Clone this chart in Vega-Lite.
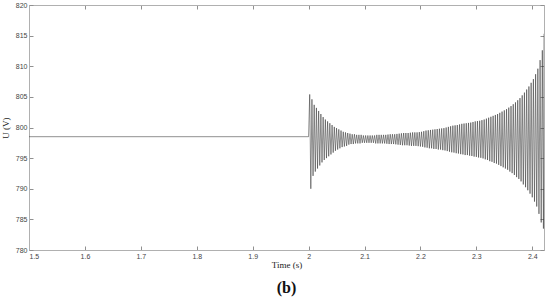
{
  "$schema": "https://vega.github.io/schema/vega-lite/v6.json",
  "width": 515,
  "height": 245,
  "autosize": "none",
  "padding": {"left": 29, "top": 5, "right": 6, "bottom": 47},
  "background": "white",
  "config": {
    "view": {"stroke": "#b0b0b0", "strokeWidth": 1},
    "axis": {
      "grid": false,
      "domainColor": "#b0b0b0",
      "tickColor": "#909090",
      "labelFont": "Liberation Sans",
      "labelFontSize": 7,
      "labelColor": "#444",
      "titleFont": "Liberation Serif",
      "titleFontWeight": "normal",
      "titleFontSize": 9,
      "titleColor": "#222"
    }
  },
  "title": {"text": "(b)", "orient": "bottom", "font": "Liberation Serif", "fontSize": 16, "fontWeight": "bold", "color": "#111", "offset": 11, "anchor": "middle"},
  "data": {"values": [
    {"t": 1.5, "u": 798.5}, {"t": 2.0, "u": 798.5},
    {"t": 2.002, "u": 805.4}, {"t": 2.004, "u": 790.0}, {"t": 2.006, "u": 804.6}, {"t": 2.008, "u": 792.1},
    {"t": 2.010, "u": 803.7}, {"t": 2.012, "u": 792.8}, {"t": 2.014, "u": 803.2}, {"t": 2.016, "u": 793.3},
    {"t": 2.018, "u": 802.7}, {"t": 2.020, "u": 793.8}, {"t": 2.022, "u": 802.2}, {"t": 2.024, "u": 794.3},
    {"t": 2.026, "u": 801.7}, {"t": 2.028, "u": 794.7}, {"t": 2.030, "u": 801.3}, {"t": 2.032, "u": 795.0},
    {"t": 2.034, "u": 801.0}, {"t": 2.036, "u": 795.3}, {"t": 2.038, "u": 800.7}, {"t": 2.040, "u": 795.6},
    {"t": 2.042, "u": 800.4}, {"t": 2.044, "u": 795.9}, {"t": 2.046, "u": 800.1}, {"t": 2.048, "u": 796.2},
    {"t": 2.050, "u": 799.9}, {"t": 2.052, "u": 796.4}, {"t": 2.054, "u": 799.7}, {"t": 2.056, "u": 796.6},
    {"t": 2.058, "u": 799.5}, {"t": 2.060, "u": 796.8}, {"t": 2.062, "u": 799.3}, {"t": 2.064, "u": 796.9},
    {"t": 2.066, "u": 799.2}, {"t": 2.068, "u": 797.0}, {"t": 2.070, "u": 799.1}, {"t": 2.072, "u": 797.2},
    {"t": 2.074, "u": 799.0}, {"t": 2.076, "u": 797.3}, {"t": 2.078, "u": 798.9}, {"t": 2.080, "u": 797.3},
    {"t": 2.082, "u": 798.9}, {"t": 2.084, "u": 797.4}, {"t": 2.086, "u": 798.8}, {"t": 2.088, "u": 797.4},
    {"t": 2.090, "u": 798.8}, {"t": 2.092, "u": 797.4}, {"t": 2.094, "u": 798.8}, {"t": 2.096, "u": 797.5},
    {"t": 2.098, "u": 798.7}, {"t": 2.100, "u": 797.5}, {"t": 2.102, "u": 798.7}, {"t": 2.104, "u": 797.5},
    {"t": 2.106, "u": 798.7}, {"t": 2.108, "u": 797.5}, {"t": 2.110, "u": 798.7}, {"t": 2.112, "u": 797.5},
    {"t": 2.114, "u": 798.7}, {"t": 2.116, "u": 797.5}, {"t": 2.118, "u": 798.7}, {"t": 2.120, "u": 797.4},
    {"t": 2.122, "u": 798.8}, {"t": 2.124, "u": 797.4}, {"t": 2.126, "u": 798.8}, {"t": 2.128, "u": 797.4},
    {"t": 2.130, "u": 798.8}, {"t": 2.132, "u": 797.4}, {"t": 2.134, "u": 798.8}, {"t": 2.136, "u": 797.4},
    {"t": 2.138, "u": 798.8}, {"t": 2.140, "u": 797.35}, {"t": 2.142, "u": 798.85}, {"t": 2.144, "u": 797.3},
    {"t": 2.146, "u": 798.9}, {"t": 2.148, "u": 797.3}, {"t": 2.150, "u": 798.9}, {"t": 2.152, "u": 797.3},
    {"t": 2.154, "u": 798.9}, {"t": 2.156, "u": 797.25}, {"t": 2.158, "u": 798.95}, {"t": 2.160, "u": 797.2},
    {"t": 2.162, "u": 799.0}, {"t": 2.164, "u": 797.15}, {"t": 2.166, "u": 799.05}, {"t": 2.168, "u": 797.1},
    {"t": 2.170, "u": 799.1}, {"t": 2.172, "u": 797.1}, {"t": 2.174, "u": 799.1}, {"t": 2.176, "u": 797.1},
    {"t": 2.178, "u": 799.1}, {"t": 2.180, "u": 797.05}, {"t": 2.182, "u": 799.15}, {"t": 2.184, "u": 797.0},
    {"t": 2.186, "u": 799.2}, {"t": 2.188, "u": 797.0}, {"t": 2.190, "u": 799.2}, {"t": 2.192, "u": 797.0},
    {"t": 2.194, "u": 799.2}, {"t": 2.196, "u": 796.95}, {"t": 2.198, "u": 799.25}, {"t": 2.200, "u": 796.9},
    {"t": 2.202, "u": 799.3}, {"t": 2.204, "u": 796.85}, {"t": 2.206, "u": 799.4}, {"t": 2.208, "u": 796.75},
    {"t": 2.210, "u": 799.5}, {"t": 2.212, "u": 796.7}, {"t": 2.214, "u": 799.55}, {"t": 2.216, "u": 796.6},
    {"t": 2.218, "u": 799.6}, {"t": 2.220, "u": 796.6}, {"t": 2.222, "u": 799.65}, {"t": 2.224, "u": 796.5},
    {"t": 2.226, "u": 799.7}, {"t": 2.228, "u": 796.5}, {"t": 2.230, "u": 799.75}, {"t": 2.232, "u": 796.4},
    {"t": 2.234, "u": 799.8}, {"t": 2.236, "u": 796.4}, {"t": 2.238, "u": 799.85}, {"t": 2.240, "u": 796.3},
    {"t": 2.242, "u": 799.9}, {"t": 2.244, "u": 796.25}, {"t": 2.246, "u": 800.0}, {"t": 2.248, "u": 796.15},
    {"t": 2.250, "u": 800.1}, {"t": 2.252, "u": 796.05}, {"t": 2.254, "u": 800.2}, {"t": 2.256, "u": 795.95},
    {"t": 2.258, "u": 800.3}, {"t": 2.260, "u": 795.9}, {"t": 2.262, "u": 800.35}, {"t": 2.264, "u": 795.8},
    {"t": 2.266, "u": 800.4}, {"t": 2.268, "u": 795.75}, {"t": 2.270, "u": 800.5}, {"t": 2.272, "u": 795.65},
    {"t": 2.274, "u": 800.6}, {"t": 2.276, "u": 795.6}, {"t": 2.278, "u": 800.65}, {"t": 2.280, "u": 795.5},
    {"t": 2.282, "u": 800.7}, {"t": 2.284, "u": 795.5}, {"t": 2.286, "u": 800.75}, {"t": 2.288, "u": 795.4},
    {"t": 2.290, "u": 800.8}, {"t": 2.292, "u": 795.35}, {"t": 2.294, "u": 800.9}, {"t": 2.296, "u": 795.25},
    {"t": 2.298, "u": 801.0}, {"t": 2.300, "u": 795.2}, {"t": 2.302, "u": 801.05}, {"t": 2.304, "u": 795.1},
    {"t": 2.306, "u": 801.1}, {"t": 2.308, "u": 795.05}, {"t": 2.310, "u": 801.2}, {"t": 2.312, "u": 794.95},
    {"t": 2.314, "u": 801.3}, {"t": 2.316, "u": 794.8}, {"t": 2.318, "u": 801.45}, {"t": 2.320, "u": 794.7},
    {"t": 2.322, "u": 801.6}, {"t": 2.324, "u": 794.5}, {"t": 2.326, "u": 801.75}, {"t": 2.328, "u": 794.4},
    {"t": 2.330, "u": 801.9}, {"t": 2.332, "u": 794.2}, {"t": 2.334, "u": 802.05}, {"t": 2.336, "u": 794.1},
    {"t": 2.338, "u": 802.2}, {"t": 2.340, "u": 793.9}, {"t": 2.342, "u": 802.4}, {"t": 2.344, "u": 793.7},
    {"t": 2.346, "u": 802.6}, {"t": 2.348, "u": 793.5}, {"t": 2.350, "u": 802.8}, {"t": 2.352, "u": 793.3},
    {"t": 2.354, "u": 803.0}, {"t": 2.356, "u": 793.1}, {"t": 2.358, "u": 803.25}, {"t": 2.360, "u": 792.8},
    {"t": 2.362, "u": 803.5}, {"t": 2.364, "u": 792.55}, {"t": 2.366, "u": 803.8}, {"t": 2.368, "u": 792.25},
    {"t": 2.370, "u": 804.1}, {"t": 2.372, "u": 791.9}, {"t": 2.374, "u": 804.45}, {"t": 2.376, "u": 791.6},
    {"t": 2.378, "u": 804.8}, {"t": 2.380, "u": 791.2}, {"t": 2.382, "u": 805.25}, {"t": 2.384, "u": 790.7},
    {"t": 2.386, "u": 805.7}, {"t": 2.388, "u": 790.25}, {"t": 2.390, "u": 806.2}, {"t": 2.392, "u": 789.75},
    {"t": 2.394, "u": 806.7}, {"t": 2.396, "u": 789.2}, {"t": 2.398, "u": 807.3}, {"t": 2.400, "u": 788.6},
    {"t": 2.402, "u": 807.9}, {"t": 2.404, "u": 787.9}, {"t": 2.406, "u": 808.7}, {"t": 2.408, "u": 787.1},
    {"t": 2.410, "u": 809.6}, {"t": 2.412, "u": 785.9}, {"t": 2.414, "u": 811.0}, {"t": 2.416, "u": 784.5},
    {"t": 2.418, "u": 812.6}, {"t": 2.420, "u": 783.5}, {"t": 2.421, "u": 815.3}
  ]},
  "layer": [
    {
      "mark": {"type": "line", "color": "#333333", "strokeWidth": 0.55, "clip": true},
      "encoding": {
        "x": {"field": "t", "type": "quantitative", "scale": {"domain": [1.5, 2.421], "nice": false, "zero": false},
              "axis": {"title": "Time (s)", "values": [1.5, 1.6, 1.7, 1.8, 1.9, 2.0, 2.1, 2.2, 2.3, 2.4], "format": "~g", "tickSize": -4, "labelPadding": 6, "titlePadding": 1, "domain": true}},
        "y": {"field": "u", "type": "quantitative", "scale": {"domain": [780, 820], "nice": false, "zero": false},
              "axis": {"title": "U (V)", "values": [780, 785, 790, 795, 800, 805, 810, 815, 820], "tickSize": -4, "labelPadding": 6, "titlePadding": 5}}
      }
    },
    {
      "mark": {"type": "line", "opacity": 0},
      "encoding": {
        "x": {"field": "t", "type": "quantitative", "scale": {"domain": [1.5, 2.421], "nice": false, "zero": false},
              "axis": {"orient": "top", "title": null, "labels": false, "values": [1.5, 1.6, 1.7, 1.8, 1.9, 2.0, 2.1, 2.2, 2.3, 2.4], "tickSize": -4}},
        "y": {"field": "u", "type": "quantitative", "scale": {"domain": [780, 820], "nice": false, "zero": false},
              "axis": {"orient": "right", "title": null, "labels": false, "values": [780, 785, 790, 795, 800, 805, 810, 815, 820], "tickSize": -4}}
      }
    }
  ],
  "resolve": {"axis": {"x": "independent", "y": "independent"}}
}
